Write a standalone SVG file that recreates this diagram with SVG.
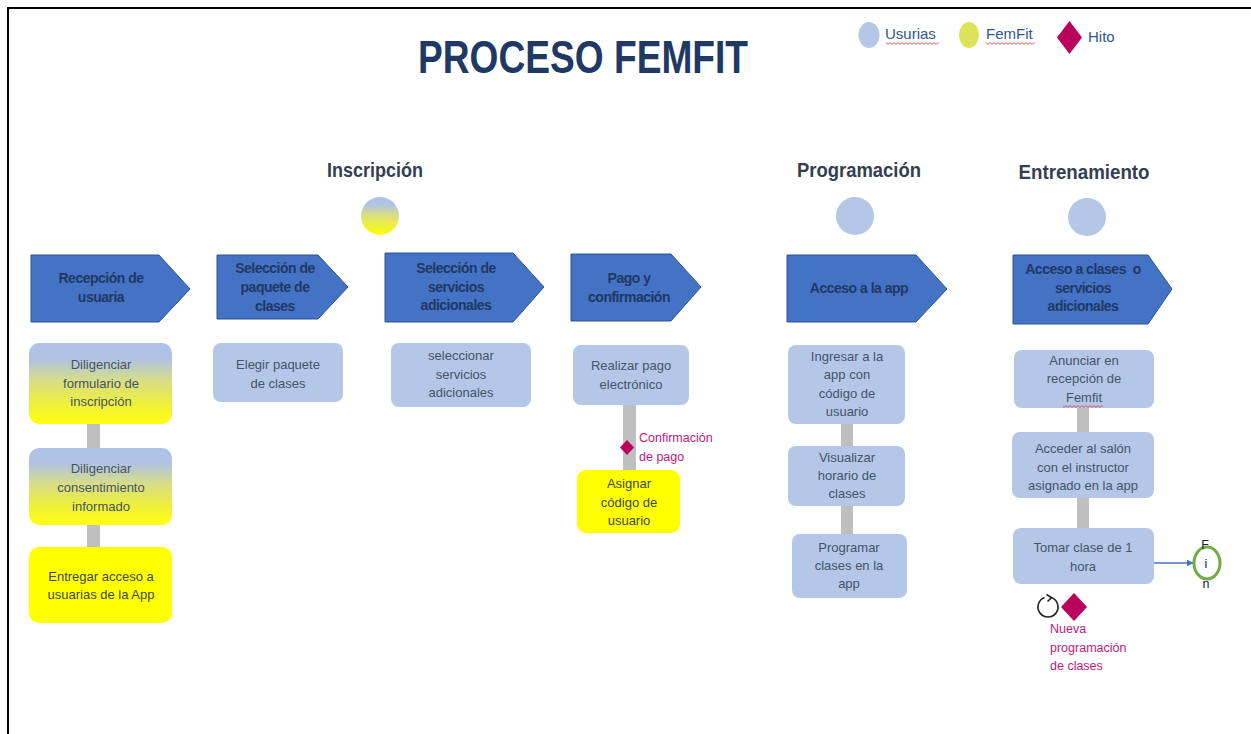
<svg xmlns="http://www.w3.org/2000/svg" width="1251" height="734" viewBox="0 0 1251 734">
<style>
.frame{fill:none;stroke:#000;stroke-width:2}
.title{font-family:"Liberation Sans",Arial,sans-serif;font-weight:bold;font-size:46px;fill:#203864}
.leg{font-family:"Liberation Sans",Arial,sans-serif;font-size:15px;fill:#2f5597}
.phase{font-family:"Liberation Sans",Arial,sans-serif;font-weight:bold;font-size:19.5px;fill:#333f50;text-anchor:middle}
.chev{fill:#4472c4;stroke:#2f528f;stroke-width:1}
.chevt{font-family:"Liberation Sans",Arial,sans-serif;font-weight:bold;font-size:14px;fill:#1f3864;text-anchor:middle;letter-spacing:-0.5px}
.box{fill:#b4c7e7}
.ybox{fill:#ffff00}
.boxt{font-family:"Liberation Sans",Arial,sans-serif;font-size:13px;fill:#44546a;text-anchor:middle}
.ytxt{font-family:"Liberation Sans",Arial,sans-serif;font-size:13px;fill:#3e4a4a;text-anchor:middle}
.bar{fill:#bfbfbf}
.hito{fill:#b8005c}
.hitot{font-family:"Liberation Sans",Arial,sans-serif;font-size:12.5px;fill:#c2177a}
.usu{fill:#b4c7e7}
.fem{fill:#dce358}
.wavy{fill:url(#wavy)}
.fin{fill:#fff;stroke:#70ad47;stroke-width:3}
.fint{font-family:"Liberation Sans",Arial,sans-serif;font-size:12.5px;fill:#222;text-anchor:middle}
</style>
<defs>
<linearGradient id="gBY" x1="0" y1="0" x2="0" y2="1">
<stop offset="0" stop-color="#adc2e8"/>
<stop offset="0.2" stop-color="#b0c3e2"/>
<stop offset="0.45" stop-color="#d6dc8c"/>
<stop offset="0.75" stop-color="#eff03a"/>
<stop offset="1" stop-color="#ffff10"/>
</linearGradient>
<pattern id="wavy" patternUnits="userSpaceOnUse" width="4" height="3">
<path d="M0,2.4 L2,0.6 L4,2.4" fill="none" stroke="#e03030" stroke-width="0.8"/>
</pattern>
<marker id="arr" viewBox="0 0 10 10" refX="9" refY="5" markerWidth="7" markerHeight="7" orient="auto" markerUnits="userSpaceOnUse">
<path d="M0,0 L10,5 L0,10 Z" fill="#4472c4"/>
</marker>
</defs>
<rect width="1251" height="734" fill="#fff"/>
<path class="frame" d="M8,734 V8 H1251"/>

<g id="title">
<text class="title" x="418" y="73" textLength="330" lengthAdjust="spacingAndGlyphs">PROCESO FEMFIT</text>
</g>

<g id="legend">
<ellipse class="usu" cx="869" cy="35" rx="10.5" ry="13"/>
<text class="leg" x="885" y="39">Usurias</text>
<rect class="wavy" x="886" y="42" width="53" height="3"/>
<ellipse class="fem" cx="969" cy="35" rx="10" ry="13"/>
<text class="leg" x="986" y="39">FemFit</text>
<rect class="wavy" x="986" y="42" width="49" height="3"/>
<polygon class="hito" points="1069.5,21 1082,37.5 1069.5,54 1057,37.5"/>
<text class="leg" x="1088" y="42">Hito</text>
</g>

<g id="phases">
<text class="phase" x="375" y="177" textLength="96" lengthAdjust="spacingAndGlyphs">Inscripción</text>
<circle cx="380" cy="216" r="19" fill="url(#gBY)"/>
<text class="phase" x="859" y="177" textLength="124" lengthAdjust="spacingAndGlyphs">Programación</text>
<circle class="usu" cx="855" cy="216" r="19"/>
<text class="phase" x="1084" y="179" textLength="131" lengthAdjust="spacingAndGlyphs">Entrenamiento</text>
<circle class="usu" cx="1087" cy="217" r="19"/>
</g>

<g id="connectors">
<rect class="bar" x="87" y="423" width="13" height="26"/>
<rect class="bar" x="87" y="524" width="13" height="25"/>
<rect class="bar" x="623" y="404" width="13" height="67"/>
<rect class="bar" x="841" y="423" width="12" height="24"/>
<rect class="bar" x="841" y="505" width="12" height="30"/>
<rect class="bar" x="1077" y="407" width="12" height="26"/>
<rect class="bar" x="1077" y="497" width="12" height="31"/>
<line x1="1154" y1="563" x2="1193" y2="563" stroke="#4472c4" stroke-width="1.5" marker-end="url(#arr)"/>
</g>

<g id="chev-recepcion">
<path class="chev" d="M31,255 H159 L190,289 L159,322 H31 Z"/>
<text class="chevt" x="101" y="283">Recepción de</text>
<text class="chevt" x="101" y="302">usuaria</text>
</g>
<g id="chev-paquete">
<path class="chev" d="M217,255 H318 L348,287 L318,319 H217 Z"/>
<text class="chevt" x="275" y="273">Selección de</text>
<text class="chevt" x="275" y="292">paquete de</text>
<text class="chevt" x="275" y="311">clases</text>
</g>
<g id="chev-servicios">
<path class="chev" d="M385,253 H513 L544,287 L513,322 H385 Z"/>
<text class="chevt" x="456" y="273">Selección de</text>
<text class="chevt" x="456" y="292">servicios</text>
<text class="chevt" x="456" y="310">adicionales</text>
</g>
<g id="chev-pago">
<path class="chev" d="M571,254 H671 L701,287 L671,321 H571 Z"/>
<text class="chevt" x="629" y="283">Pago y</text>
<text class="chevt" x="629" y="302">confirmación</text>
</g>
<g id="chev-acceso-app">
<path class="chev" d="M787,255 H916 L947,289 L916,322 H787 Z"/>
<text class="chevt" x="859" y="293">Acceso a la app</text>
</g>
<g id="chev-acceso-clases">
<path class="chev" d="M1013,255 H1148 L1172,289 L1148,324 H1013 Z"/>
<text class="chevt" x="1083" y="274" xml:space="preserve">Acceso a clases  o</text>
<text class="chevt" x="1083" y="293">servicios</text>
<text class="chevt" x="1083" y="311">adicionales</text>
</g>

<g id="task-formulario">
<rect x="29" y="343" width="143" height="81" rx="10" fill="url(#gBY)"/>
<text class="boxt" x="101" y="369">Diligenciar</text>
<text class="boxt" x="101" y="388">formulario de</text>
<text class="boxt" x="101" y="406">inscripción</text>
</g>
<g id="task-consentimiento">
<rect x="29" y="448" width="143" height="77" rx="10" fill="url(#gBY)"/>
<text class="boxt" x="101" y="473">Diligenciar</text>
<text class="boxt" x="101" y="492">consentimiento</text>
<text class="boxt" x="101" y="511">informado</text>
</g>
<g id="task-entregar">
<rect class="ybox" x="29" y="547" width="143" height="76" rx="10"/>
<text class="ytxt" x="101" y="581">Entregar acceso a</text>
<text class="ytxt" x="101" y="599">usuarias de la App</text>
</g>
<g id="task-elegir">
<rect class="box" x="213" y="343" width="130" height="59" rx="8"/>
<text class="boxt" x="278" y="369">Elegir paquete</text>
<text class="boxt" x="278" y="388">de clases</text>
</g>
<g id="task-seleccionar">
<rect class="box" x="391" y="343" width="140" height="64" rx="8"/>
<text class="boxt" x="461" y="360">seleccionar</text>
<text class="boxt" x="461" y="379">servicios</text>
<text class="boxt" x="461" y="397">adicionales</text>
</g>
<g id="task-pago">
<rect class="box" x="573" y="345" width="116" height="60" rx="8"/>
<text class="boxt" x="631" y="370">Realizar pago</text>
<text class="boxt" x="631" y="389">electrónico</text>
</g>
<g id="hito-confirmacion">
<polygon class="hito" points="627,440 634,447.5 627,455 620,447.5"/>
<text class="hitot" x="639" y="442">Confirmación</text>
<text class="hitot" x="639" y="461">de pago</text>
</g>
<g id="task-asignar">
<rect class="ybox" x="577" y="470" width="103" height="63" rx="9"/>
<text class="ytxt" x="629" y="488">Asignar</text>
<text class="ytxt" x="629" y="507">código de</text>
<text class="ytxt" x="629" y="525">usuario</text>
</g>
<g id="task-ingresar">
<rect class="box" x="788" y="345" width="117" height="79" rx="8"/>
<text class="boxt" x="847" y="361">Ingresar a la</text>
<text class="boxt" x="847" y="379">app con</text>
<text class="boxt" x="847" y="398">código de</text>
<text class="boxt" x="847" y="416">usuario</text>
</g>
<g id="task-visualizar">
<rect class="box" x="788" y="446" width="117" height="60" rx="8"/>
<text class="boxt" x="847" y="462">Visualizar</text>
<text class="boxt" x="847" y="480">horario de</text>
<text class="boxt" x="847" y="498">clases</text>
</g>
<g id="task-programar">
<rect class="box" x="792" y="534" width="115" height="64" rx="8"/>
<text class="boxt" x="849" y="552">Programar</text>
<text class="boxt" x="849" y="570">clases en la</text>
<text class="boxt" x="849" y="588">app</text>
</g>
<g id="task-anunciar">
<rect class="box" x="1014" y="350" width="140" height="58" rx="8"/>
<text class="boxt" x="1084" y="365">Anunciar en</text>
<text class="boxt" x="1084" y="383">recepción de</text>
<text class="boxt" x="1084" y="402">Femfit</text>
<rect class="wavy" x="1063" y="405" width="40" height="3"/>
</g>
<g id="task-acceder">
<rect class="box" x="1012" y="432" width="142" height="66" rx="8"/>
<text class="boxt" x="1083" y="453">Acceder al salón</text>
<text class="boxt" x="1083" y="472">con el instructor</text>
<text class="boxt" x="1083" y="490">asignado en la app</text>
</g>
<g id="task-tomar">
<rect class="box" x="1013" y="528" width="141" height="56" rx="8"/>
<text class="boxt" x="1083" y="552">Tomar clase de 1</text>
<text class="boxt" x="1083" y="571">hora</text>
</g>
<g id="fin">
<ellipse class="fin" cx="1207" cy="563" rx="13" ry="16"/>
<text class="fint" x="1205" y="549">F</text>
<text class="fint" x="1206" y="568">i</text>
<text class="fint" x="1206" y="588">n</text>
</g>
<g id="hito-nueva-programacion">
<path d="M1051.4,597.6 A10,10 0 1,1 1044.6,597.6" fill="none" stroke="#222" stroke-width="1.6"/>
<path d="M1046.5,594.5 L1051.6,597.7 L1047.5,601.5" fill="none" stroke="#222" stroke-width="1.6"/>
<polygon class="hito" points="1074,593 1087,607 1074,621 1061,607"/>
<text class="hitot" x="1050" y="633">Nueva</text>
<text class="hitot" x="1050" y="652">programación</text>
<text class="hitot" x="1050" y="670">de clases</text>
</g>
</svg>
